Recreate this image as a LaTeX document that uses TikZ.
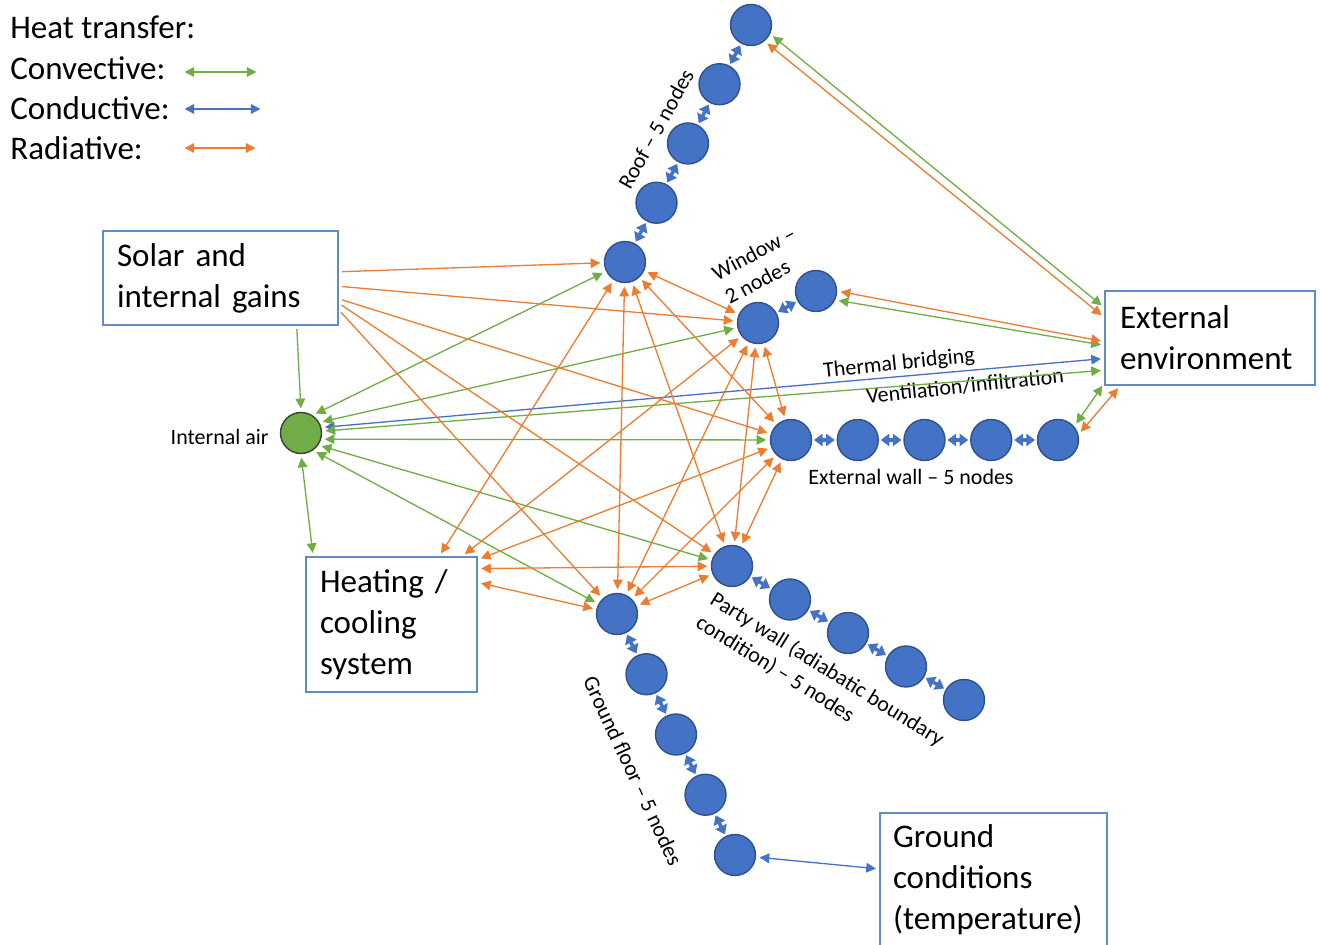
\documentclass[tikz,border=0pt]{standalone}
\usepackage{fontspec}
\setmainfont{Carlito}
\usetikzlibrary{positioning, arrows.meta, calc}
\definecolor{convgreen}{RGB}{112,173,71}
\definecolor{condblue}{RGB}{68,114,196}
\definecolor{radorange}{RGB}{237,125,49}
\definecolor{nodeedge}{RGB}{47,82,143}
\definecolor{airedge}{RGB}{55,70,50}
\definecolor{boxedge}{RGB}{96,138,200}

\begin{document}
\begin{tikzpicture}[
    x=0.02cm, y=-0.02cm,
    >={Triangle[length=5.5pt,width=5.5pt]},
    legend/.style={font=\fontsize{18.8}{23.3}\selectfont, inner sep=0pt, anchor=west},
    box/.style={draw=boxedge, line width=0.7pt, align=left, inner xsep=0.28cm, inner ysep=0pt, font=\fontsize{18.8}{23.3}\selectfont},
    lbl/.style={font=\fontsize{12.5}{15.4}\selectfont},
    wall/.style={circle, draw=nodeedge, line width=0.8pt, fill=condblue, minimum size=0.82cm, inner sep=0pt},
    air/.style={wall, draw=airedge, fill=convgreen},
    conv/.style={<->, convgreen, line width=0.75pt, shorten >=2pt, shorten <=2pt},
    rad/.style={conv, radorange},
    bridge/.style={conv, condblue},
    cond/.style={{Triangle[length=5pt,width=7pt]}-{Triangle[length=5pt,width=7pt]}, condblue, line width=2pt, shorten >=1pt, shorten <=1pt},
]
\useasboundingbox (0,0) rectangle (1320,945);

% ---------------------------------------------------------------- legend ---
\node[legend] (lgtitle) at (10,27) {Heat transfer:};
\node[legend] (lgconv) at (10,68) {Convective:};
\node[legend] (lgcond) at (10,108) {Conductive:};
\node[legend] (lgrad) at (10,148) {Radiative:};
\coordinate (convA) at (181,72);  \coordinate (convB) at (260,72);
\coordinate (condA) at (181,109); \coordinate (condB) at (264,109);
\coordinate (radA) at (181,148);  \coordinate (radB) at (259,148);
\draw[conv] (convA) -- (convB);
\draw[bridge] (condA) -- (condB);
\draw[rad] (radA) -- (radB);

% ----------------------------------------------------------------- boxes ---
\node[box, text width=4.14cm, minimum height=1.88cm] (solar) at (220.5,278) {Solar and\\internal gains};
\node[box, text width=2.86cm, minimum height=2.7cm] (heat) at (391.5,624.5) {Heating /\\cooling\\system};
\node[box, text width=3.6cm, minimum height=1.88cm, inner xsep=0.3cm] (ext) at (1210,338) {External\\environment};
\node[box, text width=4.02cm, minimum height=2.68cm, inner xsep=0.26cm] (ground) at (993.5,880) {Ground\\conditions\\(temperature)};

% ------------------------------------------------------------ zone nodes ---
\node[air] (air) at (301,433) {};
\node[lbl, left=1mm of air, yshift=-2pt] (airlbl) {Internal air};

\node[wall] (roof1) at (625,262) {};
\node[wall] (win1) at (758,323) {};
\node[wall] (win2) at (816,291) {};
\node[wall] (ew1) at (791,440) {};
\node[wall] (pw1) at (732,566) {};
\node[wall] (gf1) at (617,614) {};
\foreach \k [count=\i from 2] in {1,...,4} {
  \node[wall] (roof\i) at ($(roof1)+\k*(31.5,-59.25)$) {};
  \node[wall] (ew\i) at ($(ew1)+\k*(66.75,0)$) {};
  \node[wall] (pw\i) at ($(pw1)+\k*(58,33.5)$) {};
  \node[wall] (gf\i) at ($(gf1)+\k*(29.5,60.25)$) {};
}

\node[lbl, rotate=61] (rooflbl) at (656,129) {Roof – 5 nodes};
\node[lbl, rotate=28, align=left] (winlbl) at (760,265) {Window –\\2 nodes};
\node[lbl] (ewlbl) at (911,477) {External wall – 5 nodes};
\node[lbl, rotate=-32, align=left] (pwlbl) at (820,681) {Party wall (adiabatic boundary\\condition) – 5 nodes};
\node[lbl, rotate=-65] (gflbl) at (633,771) {Ground floor – 5 nodes};
\node[lbl, rotate=6] (bridgelbl) at (899,364) {Thermal bridging};
\node[lbl, rotate=6] (ventlbl) at (965,386) {Ventilation/infiltration};

% ------------------------------------------------------------ conduction ---
\foreach \i [count=\j from 2] in {1,...,4} {
  \draw[cond] (roof\i) -- (roof\j);
  \draw[cond] (ew\i) -- (ew\j);
  \draw[cond] (pw\i) -- (pw\j);
  \draw[cond] (gf\i) -- (gf\j);
}
\draw[cond] (win1) -- (win2);
\draw[bridge] (gf5) -- (ground);
\draw[bridge] (air.15) -- (ext.191);

% ------------------------------------------------------------ convection ---
\draw[conv, ->] (solar.-32) -- (air.north);
\draw[conv] (air.57) -- (roof1);
\draw[conv] (air.30) -- (win1);
\draw[conv] (air.5) -- (ext.197);
\draw[conv] (air.-17) -- (ew1);
\draw[conv] (air.-35) -- (pw1);
\draw[conv] (air.-55) -- (gf1);
\draw[conv] (air.-90) -- (heat.139);
\draw[conv] (roof5.-25) -- (ext.164);
\draw[conv] (win2.-25) -- (ext.184);
\draw[conv] (ew5.40) -- (ext.203);

% ------------------------------------------------------------- radiation ---
\draw[rad, ->] (solar.3) -- (roof1);
\draw[rad, ->] (solar.-4) -- (win1);
\draw[rad, ->] (solar.-10) -- (ew1);
\draw[rad, ->] (solar.-12) -- (pw1);
\draw[rad, ->] (solar.-15) -- (gf1);
\draw[rad] (heat.55) -- (roof1);
\draw[rad] (heat.44) -- (win1);
\draw[rad] (heat.37) -- (ew1);
\draw[rad] (heat.33) -- (pw1);
\draw[rad] (heat.26) -- (gf1);
\foreach \a/\b in {roof1/win1, roof1/ew1, roof1/pw1, roof1/gf1, win1/ew1, win1/pw1, win1/gf1, ew1/pw1, ew1/gf1, pw1/gf1}
  \draw[rad] (\a) -- (\b);
\draw[rad] (roof5.-50) -- (ext.169);
\draw[rad] (win2.0) -- (ext.182);
\draw[rad] (ew5.15) -- (ext.208);

\end{tikzpicture}
\end{document}
